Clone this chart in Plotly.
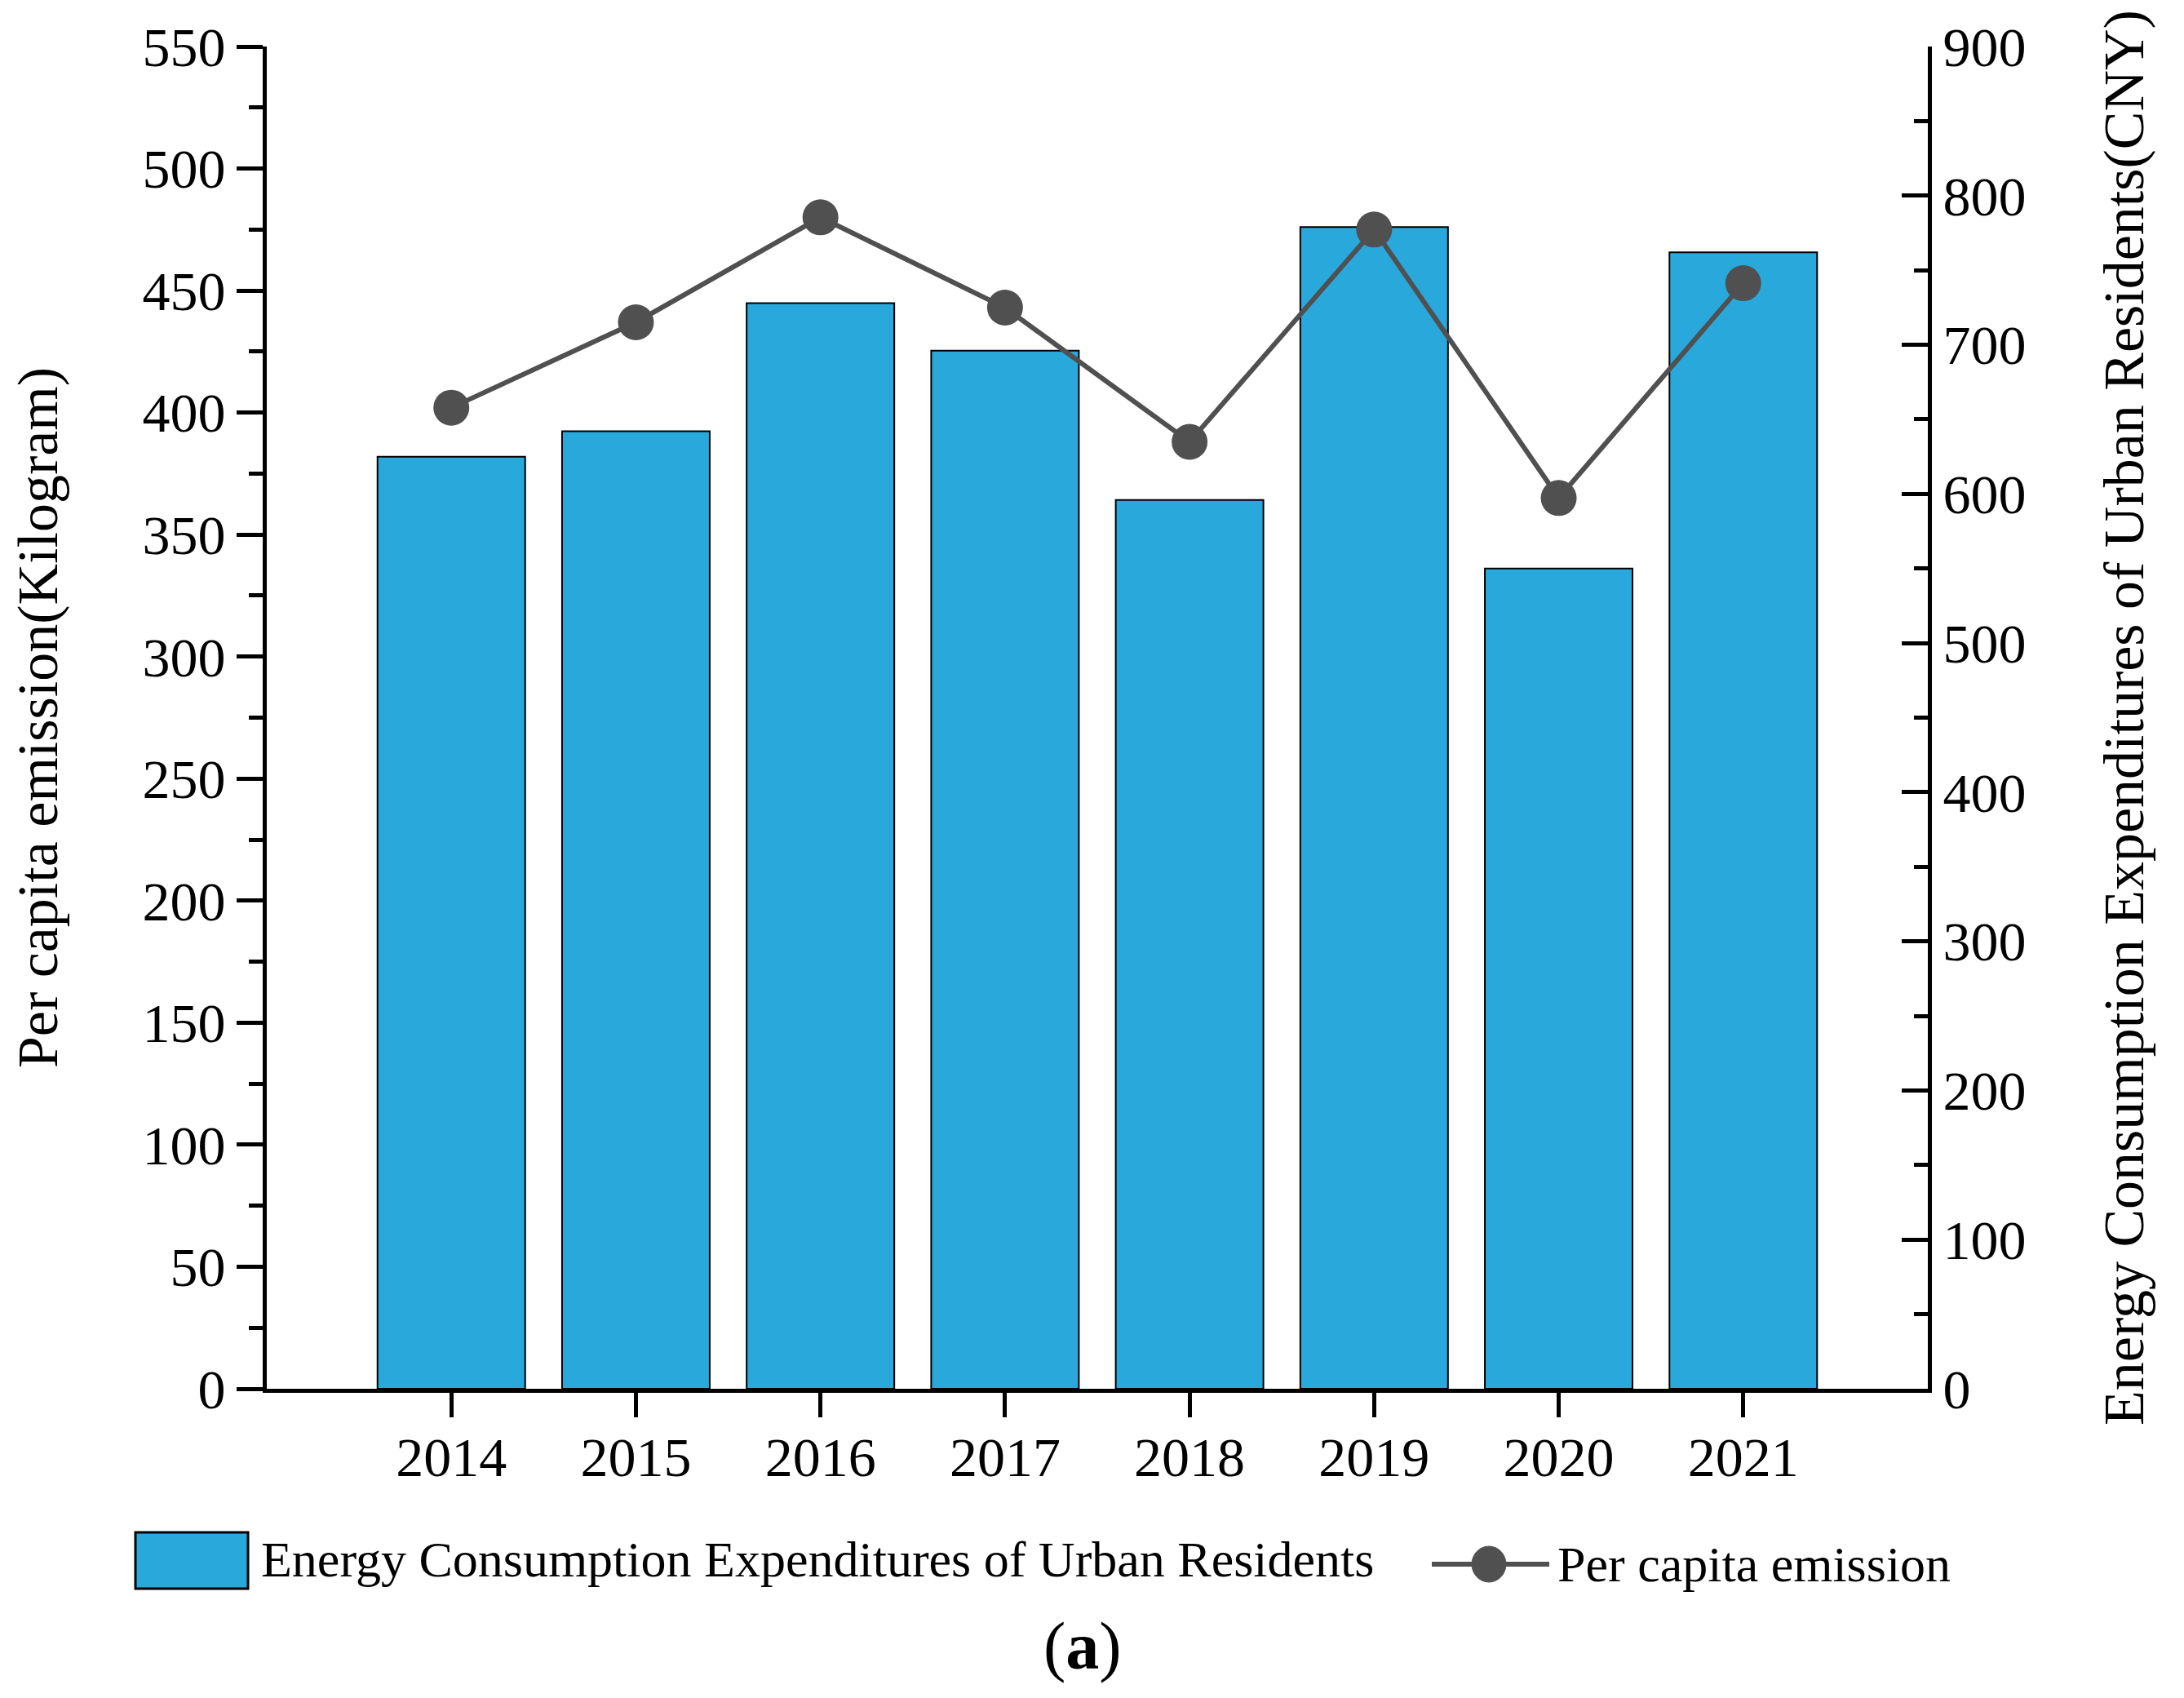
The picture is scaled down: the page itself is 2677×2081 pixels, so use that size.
import plotly.graph_objects as go

years = ["2014", "2015", "2016", "2017", "2018", "2019", "2020", "2021"]
expenditure = [625, 642, 728, 696, 596, 779, 550, 762]   # CNY, right axis (bars)
emission = [402, 437, 480, 443, 388, 475, 365, 453]       # kg, left axis (line)

bar_name = "Energy Consumption Expenditures of Urban Residents"
line_name = "Per capita emission"
left_title = "Per capita emission(Kilogram)"
right_title = "Energy Consumption Expenditures of Urban Residents(CNY)"

OFF = 8  # page body margin
W, H = 2677 - OFF, 2081 - OFF
L, R, T, B = 327, 2363, 57, 1702  # plot area in screen pixels

def px(x):
    return (x - L) / (R - L)

def py(y):
    return (B - y) / (B - T)

FONT = "Liberation Serif"
BAR_COLOR = "#29A9DB"
LINE_COLOR = "#505050"

fig = go.Figure()
fig.add_trace(go.Bar(
    x=years, y=expenditure, name=bar_name, yaxis="y",
    marker=dict(color=BAR_COLOR, line=dict(color="black", width=2)),
))
fig.add_trace(go.Scatter(
    x=years, y=emission, name=line_name, yaxis="y2", mode="lines+markers",
    line=dict(color=LINE_COLOR, width=6),
    marker=dict(color=LINE_COLOR, size=44),
))

axis_common = dict(
    showgrid=False, zeroline=False, showline=True, linecolor="black", linewidth=5,
    tickcolor="black", tickwidth=5,
    tickfont=dict(family=FONT, size=68, color="black"),
)

fig.update_layout(
    width=W, height=H,
    margin=dict(l=L - OFF, r=W - (R - OFF), t=T - OFF, b=H - (B - OFF)),
    paper_bgcolor="white", plot_bgcolor="white",
    showlegend=False,
    bargap=0.2,
    font=dict(family=FONT, color="black"),
    xaxis=dict(
        type="category", range=[-1, 8], ticks="outside", ticklen=30,
        ticklabelstandoff=-10,
        **axis_common,
    ),
    yaxis=dict(
        side="right", range=[0, 900], dtick=100, ticks="inside", ticklen=32,
        minor=dict(dtick=50, ticks="inside", ticklen=17, tickwidth=5, tickcolor="black"),
        title=dict(text=right_title, font=dict(family=FONT, size=70, color="black"), standoff=97),
        **axis_common,
    ),
    yaxis2=dict(
        overlaying="y", side="left", range=[0, 550], dtick=50, ticks="outside", ticklen=32,
        minor=dict(dtick=25, ticks="outside", ticklen=17, tickwidth=5, tickcolor="black"),
        title=dict(text=left_title, font=dict(family=FONT, size=70, color="black"), standoff=92),
        **axis_common,
    ),
)

# custom legend below the plot
fig.add_shape(type="rect", xref="paper", yref="paper",
              x0=px(166), x1=px(304), y0=py(1947), y1=py(1878),
              fillcolor=BAR_COLOR, line=dict(color="black", width=3))
fig.add_annotation(xref="paper", yref="paper", x=px(318), y=py(1911),
                   xanchor="left", yanchor="middle", showarrow=False,
                   text=bar_name, font=dict(family=FONT, size=62, color="black"))
fig.add_shape(type="line", xref="paper", yref="paper",
              x0=px(1755), x1=px(1899), y0=py(1917), y1=py(1917),
              line=dict(color=LINE_COLOR, width=6))
fig.add_shape(type="circle", xref="paper", yref="paper",
              x0=px(1804), x1=px(1846), y0=py(1939), y1=py(1895),
              fillcolor=LINE_COLOR, line=dict(color=LINE_COLOR, width=1))
fig.add_annotation(xref="paper", yref="paper", x=px(1907), y=py(1917),
                   xanchor="left", yanchor="middle", showarrow=False,
                   text=line_name, font=dict(family=FONT, size=62, color="black"))
fig.add_annotation(xref="paper", yref="paper", x=px(1327), y=py(2017),
                   xanchor="center", yanchor="middle", showarrow=False,
                   text="(<b>a</b>)", font=dict(family=FONT, size=82, color="black"))

fig.write_html("out.html")
